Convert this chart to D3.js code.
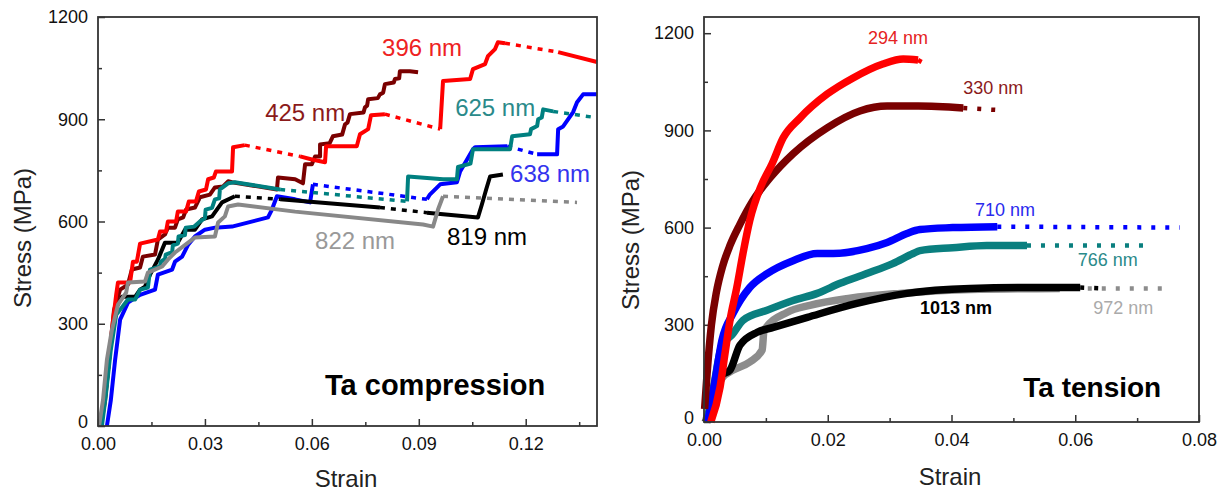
<!DOCTYPE html>
<html>
<head>
<style>
  body { margin: 0; background: #fff; }
  text { font-family: "Liberation Sans", Arial, sans-serif; }
</style>
</head>
<body>

<script src="https://cdn.jsdelivr.net/npm/d3@7"></script>
<script>

// ---- data: [strain, stress MPa]; runs alternate dense / sparsely sampled ----
const comp396 = [
  [[0.0006,0],[0.0017,62],[0.0028,165],[0.0039,282],[0.0051,385],[0.0056,421],[0.0090,421],[0.0098,482],[0.0109,482],[0.0118,535],[0.0168,547],[0.0174,571],[0.0191,571],[0.0196,600],[0.0219,600],[0.0224,629],[0.0247,629],[0.0255,659],[0.0275,659],[0.0283,688],[0.0303,694],[0.0309,724],[0.0325,729],[0.0331,747],[0.0376,747],[0.0379,818],[0.0412,824]],
  [[0.0412,824],[0.0567,791]],
  [[0.0567,791],[0.0600,782],[0.0637,774],[0.0640,821],[0.0726,821],[0.0735,856],[0.0758,871],[0.0766,912],[0.0805,915]],
  [[0.0805,915],[0.0960,871]],
  [[0.0960,871],[0.0968,1012],[0.1044,1018],[0.1052,1047],[0.1086,1062],[0.1094,1085],[0.1114,1106],[0.1122,1126],[0.1142,1123]],
  [[0.1142,1123],[0.1291,1097]],
  [[0.1291,1097],[0.1400,1068]]
];
const comp425 = [
  [[0.0008,0],[0.0020,76],[0.0034,224],[0.0045,341],[0.0062,400],[0.0084,415],[0.0095,459],[0.0118,465],[0.0126,497],[0.0160,503],[0.0168,547],[0.0188,562],[0.0196,582],[0.0216,582],[0.0224,606],[0.0239,612],[0.0247,635],[0.0272,641],[0.0286,671],[0.0314,679],[0.0328,700],[0.0351,703],[0.0365,718],[0.0376,715],[0.0502,694],[0.0505,729],[0.0553,724],[0.0575,712],[0.0581,768],[0.0600,768],[0.0609,791],[0.0623,791],[0.0623,826],[0.0650,830],[0.0659,850],[0.0685,855],[0.0693,885],[0.0700,890],[0.0707,915],[0.0745,920],[0.0749,935],[0.0755,940],[0.0758,959],[0.0785,962],[0.0791,973],[0.0800,978],[0.0805,1003],[0.0830,1008],[0.0833,1018],[0.0845,1020],[0.0847,1041],[0.0875,1041],[0.0898,1038]]
];
const comp625 = [
  [[0.0011,0],[0.0022,91],[0.0036,224],[0.0051,326],[0.0084,371],[0.0104,371],[0.0118,400],[0.0140,406],[0.0146,459],[0.0174,468],[0.0176,482],[0.0188,490],[0.0190,503],[0.0208,510],[0.0210,530],[0.0224,535],[0.0226,556],[0.0244,560],[0.0246,582],[0.0270,585],[0.0286,600],[0.0300,610],[0.0302,635],[0.0320,640],[0.0328,665],[0.0340,668],[0.0342,694],[0.0365,712],[0.0384,715],[0.0511,694]],
  [[0.0511,694],[0.0867,659]],
  [[0.0867,659],[0.0870,732],[0.0968,724],[0.1007,724],[0.1010,760],[0.1045,770],[0.1052,812],[0.1156,812],[0.1162,850],[0.1212,856],[0.1215,871],[0.1232,880],[0.1235,900],[0.1245,905],[0.1249,929],[0.1277,923]],
  [[0.1277,923],[0.1389,906]]
];
const comp638 = [
  [[0.0025,0],[0.0036,76],[0.0048,194],[0.0062,312],[0.0084,362],[0.0118,385],[0.0160,400],[0.0168,444],[0.0208,459],[0.0216,482],[0.0236,497],[0.0253,532],[0.0272,556],[0.0300,576],[0.0328,582],[0.0376,585],[0.0477,612],[0.0488,635],[0.0502,674],[0.0553,665],[0.0595,656],[0.0603,709]],
  [[0.0603,709],[0.0923,665]],
  [[0.0923,665],[0.0931,679],[0.0960,709],[0.1007,715],[0.1016,747],[0.1052,812],[0.1058,818],[0.1148,821]],
  [[0.1148,821],[0.1232,797]],
  [[0.1232,797],[0.1288,797],[0.1291,871],[0.1305,879],[0.1333,921],[0.1344,950],[0.1361,973],[0.1400,973]]
];
const comp819 = [
  [[0.0008,0],[0.0022,106],[0.0034,224],[0.0048,341],[0.0067,379],[0.0104,379],[0.0118,400],[0.0132,409],[0.0146,444],[0.0168,488],[0.0188,538],[0.0224,538],[0.0244,576],[0.0272,576],[0.0292,606],[0.0320,615],[0.0348,656],[0.0384,674]],
  [[0.0384,674],[0.0511,665]],
  [[0.0511,665],[0.0791,641]],
  [[0.0791,641],[0.0923,626]],
  [[0.0923,626],[0.1066,612],[0.1077,650],[0.1089,694],[0.1100,732],[0.1136,738]]
];
const comp822 = [
  [[0.0003,0],[0.0014,76],[0.0025,194],[0.0039,282],[0.0056,356],[0.0079,391],[0.0084,421],[0.0132,424],[0.0140,450],[0.0180,468],[0.0196,488],[0.0216,509],[0.0253,538],[0.0272,553],[0.0328,556],[0.0337,597],[0.0356,615],[0.0365,644],[0.0393,650],[0.0553,629],[0.0912,591],[0.0940,585],[0.0954,635],[0.0968,674]],
  [[0.0968,674],[0.1344,656]]
];

const ten294 = [
  [[0.0011,0],[0.0026,108],[0.0034,212],[0.0042,314],[0.0053,415],[0.0063,520],[0.0074,622],[0.0091,723],[0.0110,797],[0.0128,877],[0.0155,938],[0.0199,1012],[0.0241,1062],[0.0289,1105],[0.0322,1120],[0.0346,1117]],
  [[0.0346,1117],[0.0352,1111]]
];
const ten330 = [
  [[0.0001,40],[0.0005,150],[0.0012,300],[0.0020,400],[0.0030,480],[0.0042,545],[0.0058,610],[0.0079,683],[0.0107,754],[0.0144,828],[0.0199,908],[0.0252,960],[0.0296,975],[0.0346,975],[0.0419,969]],
  [[0.0419,969],[0.0474,963]]
];
const ten710 = [
  [[0.0006,0],[0.0018,129],[0.0029,252],[0.0047,335],[0.0074,415],[0.0102,458],[0.0144,498],[0.0183,520],[0.0209,520],[0.0263,535],[0.0296,554],[0.0328,582],[0.0349,594],[0.0402,600],[0.0474,603]],
  [[0.0474,603],[0.0769,600]]
];
const ten766 = [
  [[0.0005,0],[0.0016,114],[0.0029,237],[0.0045,268],[0.0063,314],[0.0102,345],[0.0144,375],[0.0183,397],[0.0220,428],[0.0263,458],[0.0305,489],[0.0338,520],[0.0349,529],[0.0402,538],[0.0457,545],[0.0522,545]],
  [[0.0522,545],[0.0724,545]]
];
const ten1013 = [
  [[0.0003,0],[0.0018,83],[0.0029,145],[0.0042,160],[0.0058,237],[0.0086,277],[0.0112,292],[0.0167,323],[0.0247,366],[0.0328,397],[0.0430,412],[0.0527,415],[0.0608,415]],
  [[0.0608,415],[0.0651,412]]
];
const ten972 = [
  [[0.0002,0],[0.0016,83],[0.0029,135],[0.0047,160],[0.0074,185],[0.0094,222],[0.0097,283],[0.0134,338],[0.0171,360],[0.0236,382],[0.0317,397],[0.0430,409],[0.0575,412]],
  [[0.0575,412],[0.0750,412]]
];

const compXTicks = [0, 0.03, 0.06, 0.09, 0.12];
const compXMinor = [0.015, 0.045, 0.075, 0.105, 0.135];
const tenXTicks = [0, 0.02, 0.04, 0.06, 0.08];
const tenXMinor = [0.01, 0.03, 0.05, 0.07];
const yTicks = [0, 300, 600, 900, 1200];
const yMinor = [150, 450, 750, 1050];

// ---- drawing ----
const svg = d3.select('body').append('svg')
  .attr('width', 1226).attr('height', 492);

function drawPanel(p) {
  const x = d3.scaleLinear().domain(p.xDomain).range([p.left, p.right]);
  const y = d3.scaleLinear().domain(p.yDomain).range([p.bottom, p.top]);
  const g = svg.append('g');

  const styleAxis = sel => {
    sel.select('.domain').remove();
    sel.selectAll('line').attr('stroke', '#333').attr('stroke-width', 1.5);
    sel.selectAll('text').attr('font-size', 18).attr('fill', '#111')
      .attr('font-family', '"Liberation Sans", Arial, sans-serif');
  };

  g.append('g').attr('transform', `translate(0,${p.bottom})`)
    .call(d3.axisBottom(x).tickValues(p.xMinor).tickSize(-4).tickFormat(''))
    .call(styleAxis);
  g.append('g').attr('transform', `translate(0,${p.bottom})`)
    .call(d3.axisBottom(x).tickValues(p.xTicks).tickSize(-7).tickPadding(11).tickFormat(d3.format('.2f')))
    .call(styleAxis);
  g.append('g').attr('transform', `translate(${p.left},0)`)
    .call(d3.axisLeft(y).tickValues(yMinor).tickSize(-4).tickFormat(''))
    .call(styleAxis);
  const yAxis = g.append('g').attr('transform', `translate(${p.left},0)`)
    .call(d3.axisLeft(y).tickValues(yTicks).tickSize(-7).tickPadding(10).tickFormat(d3.format('d')))
    .call(styleAxis);
  // the zero label sits a little high, as in the source figure
  yAxis.selectAll('.tick text').filter(d => d === 0).attr('dy', '0.1em');

  const line = d3.line().x(d => x(d[0])).y(d => y(d[1])).curve(p.curve);

  p.series.forEach(s => {
    s.runs.forEach((run, i) => {
      g.append('path')
        .attr('d', line(run))
        .attr('fill', 'none')
        .attr('stroke', s.color)
        .attr('stroke-width', i % 2 ? p.sparseWidth : p.width)
        .attr('stroke-linejoin', 'round')
        .attr('stroke-dasharray', i % 2 ? p.dash : null);
    });
  });

  g.append('rect')
    .attr('x', p.left).attr('y', p.top)
    .attr('width', p.right - p.left).attr('height', p.bottom - p.top)
    .attr('fill', 'none').attr('stroke', '#333').attr('stroke-width', 1.8);

  p.labels.forEach(l => {
    g.append('text')
      .attr('x', x(l.at[0])).attr('y', y(l.at[1]))
      .attr('font-size', l.size).attr('font-weight', l.bold ? 'bold' : null)
      .attr('fill', l.color).text(l.text);
  });

  g.append('text')
    .attr('transform', `translate(${p.yTitleX},${p.yTitleY}) rotate(-90)`)
    .attr('text-anchor', 'middle').attr('dominant-baseline', 'central')
    .attr('font-size', 24).attr('fill', '#222').text('Stress (MPa)');
  g.append('text')
    .attr('x', p.xTitleX).attr('y', p.xTitleY)
    .attr('text-anchor', 'middle')
    .attr('font-size', 24).attr('fill', '#222').text('Strain');
}

drawPanel({
  left: 98, right: 597, top: 17, bottom: 426,
  xDomain: [0, 0.14], yDomain: [0, 1200],
  xTicks: compXTicks, xMinor: compXMinor,
  width: 4, sparseWidth: 3.5, dash: '5,6', curve: d3.curveLinear,
  series: [
    { runs: comp638, color: '#0000ff' },
    { runs: comp819, color: '#000000' },
    { runs: comp425, color: '#7a0000' },
    { runs: comp396, color: '#ff0000' },
    { runs: comp625, color: '#008080' },
    { runs: comp822, color: '#888888' }
  ],
  labels: [
    { text: '396 nm', at: [0.0797, 1085], color: '#ee2222', size: 24 },
    { text: '425 nm', at: [0.0469, 894], color: '#8b1a1a', size: 24 },
    { text: '625 nm', at: [0.1002, 909], color: '#2a8a8a', size: 24 },
    { text: '638 nm', at: [0.1156, 715], color: '#3333ee', size: 24 },
    { text: '822 nm', at: [0.0609, 518], color: '#999999', size: 24 },
    { text: '819 nm', at: [0.0979, 532], color: '#000000', size: 24 },
    { text: 'Ta compression', at: [0.0637, 91], color: '#000000', size: 29, bold: true }
  ],
  yTitleX: 22, yTitleY: 238, xTitleX: 346, xTitleY: 487
});

drawPanel({
  left: 704, right: 1199, top: 17, bottom: 422,
  xDomain: [0, 0.08], yDomain: [0, 1250],
  xTicks: tenXTicks, xMinor: tenXMinor,
  width: 7.5, sparseWidth: 4.5, dash: '4,10', curve: d3.curveMonotoneX,
  series: [
    { runs: ten972, color: '#8c8c8c' },
    { runs: ten1013, color: '#000000' },
    { runs: ten766, color: '#0a7f7f' },
    { runs: ten710, color: '#0000ff' },
    { runs: ten330, color: '#7a0000' },
    { runs: ten294, color: '#ff0000' }
  ],
  labels: [
    { text: '294 nm', at: [0.0265, 1166], color: '#e52222', size: 18 },
    { text: '330 nm', at: [0.0419, 1012], color: '#8b1a1a', size: 18 },
    { text: '710 nm', at: [0.0438, 637], color: '#2a2aee', size: 18 },
    { text: '766 nm', at: [0.0604, 483], color: '#2a8a8a', size: 18 },
    { text: '1013 nm', at: [0.0349, 332], color: '#000000', size: 18, bold: true },
    { text: '972 nm', at: [0.0629, 332], color: '#aaaaaa', size: 18 },
    { text: 'Ta tension', at: [0.0516, 77], color: '#000000', size: 28, bold: true }
  ],
  yTitleX: 630, yTitleY: 240, xTitleX: 950, xTitleY: 485
});

</script>
</body>
</html>
